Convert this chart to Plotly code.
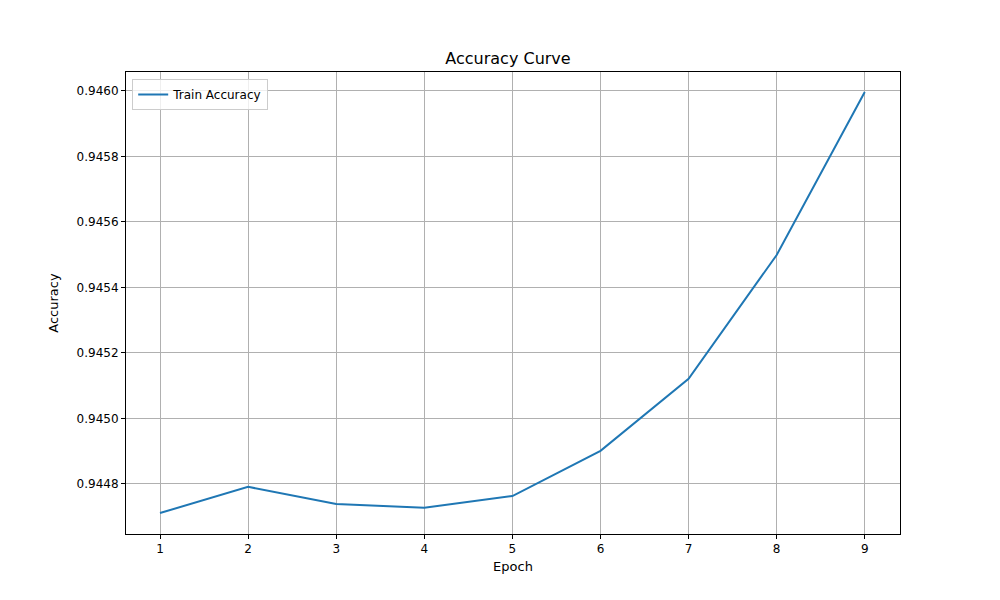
import plotly.graph_objects as go

epochs = [1, 2, 3, 4, 5, 6, 7, 8, 9]
train_accuracy = [0.944711, 0.944791, 0.944739, 0.944727, 0.944763,
                  0.944901, 0.945121, 0.945499, 0.945997]
y_ticks = [0.9448, 0.9450, 0.9452, 0.9454, 0.9456, 0.9458, 0.9460]

fig = go.Figure()
fig.add_trace(go.Scatter(x=epochs, y=train_accuracy, mode="lines",
                         name="Train Accuracy",
                         line=dict(color="#1f77b4", width=2)))

axis_style = dict(showgrid=True, gridcolor="#b0b0b0", gridwidth=1,
                  showline=True, linecolor="black", mirror=True,
                  ticks="outside", ticklen=4, tickcolor="black",
                  zeroline=False, tickfont=dict(size=12, color="black"))

# page renders with ~8px body offset, so shift margins to compensate
fig.update_layout(
    width=1000, height=600,
    paper_bgcolor="white", plot_bgcolor="white",
    font=dict(family="DejaVu Sans", color="black"),
    margin=dict(l=118, r=108, t=64, b=74),
    title=dict(text="Accuracy Curve", x=0.5, xanchor="center",
               y=1 - 50 / 600, yanchor="middle", font=dict(size=16)),
    xaxis=dict(title=dict(text="Epoch", font=dict(size=13), standoff=6),
               range=[0.614, 9.4], tickvals=epochs, **axis_style),
    yaxis=dict(title=dict(text="Accuracy", font=dict(size=13)),
               range=[0.944647, 0.946058], tickvals=y_ticks,
               tickformat=".4f", **axis_style),
    showlegend=True,
    legend=dict(x=0.008, y=0.985, xanchor="left", yanchor="top",
                bgcolor="rgba(255,255,255,0.8)", bordercolor="#cccccc",
                borderwidth=1, font=dict(size=12)),
)

fig.write_html("out.html")
